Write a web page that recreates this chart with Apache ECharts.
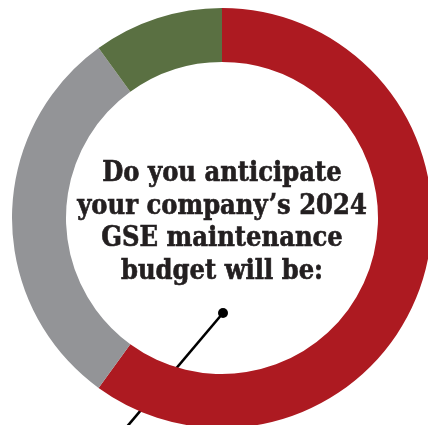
<!DOCTYPE html>
<html><head><meta charset="utf-8">
<script src="https://cdn.jsdelivr.net/npm/echarts@6/dist/echarts.min.js"></script>
<style>html,body{margin:0;padding:0;background:#fff}#c{width:428px;height:425px}</style>
</head><body><div id="c"></div>
<script>
const categories = ['Increase', 'Stay the same', 'Decrease'];
const values = [60, 30, 10];
const colors = ['#AD1A21', '#939497', '#5A7042'];
const question = ['Do you anticipate', 'your company\u2019s 2024', 'GSE maintenance', 'budget will be:'];

const chart = echarts.init(document.getElementById('c'));
chart.setOption({
  animation: false,
  series: [{
    type: 'pie',
    center: [222, 218],
    radius: [156, 210],
    startAngle: 90,
    clockwise: true,
    label: { show: false },
    labelLine: { show: false },
    silent: true,
    data: categories.map((c, i) => ({ name: c, value: values[i], itemStyle: { color: colors[i] } }))
  }],
  graphic: [
    {
      type: 'text', x: 222, y: 158,
      style: {
        text: question.join('\n'),
        font: 'bold 27px "DejaVu Serif Condensed", "DejaVu Serif"',
        fill: '#231F20',
        stroke: '#231F20',
        lineWidth: 0.6,
        textAlign: 'center',
        textVerticalAlign: 'top',
        lineHeight: 32.5
      }
    },
    { type: 'line', shape: { x1: 223, y1: 313, x2: 125, y2: 429 }, style: { stroke: '#000', lineWidth: 2.6 } },
    { type: 'circle', shape: { cx: 223, cy: 313, r: 5 }, style: { fill: '#000' } }
  ]
});
</script></body></html>
